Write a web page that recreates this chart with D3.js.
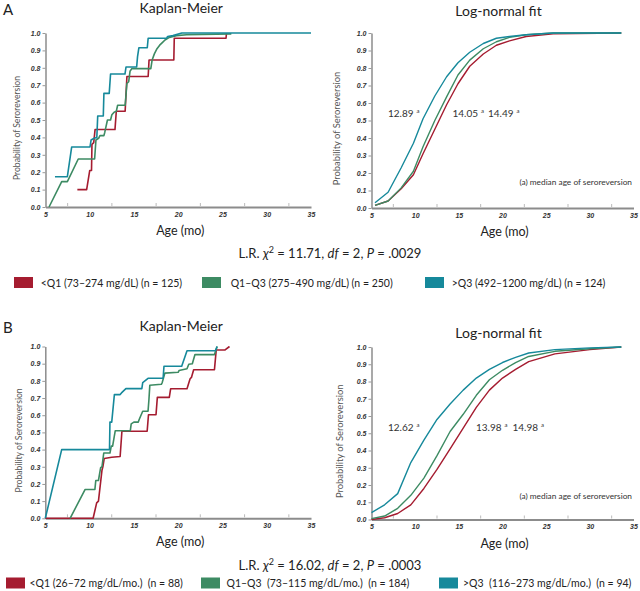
<!DOCTYPE html>
<html>
<head>
<meta charset="utf-8">
<script src="https://cdn.jsdelivr.net/npm/d3@7"></script>
<style>
body { margin: 0; background: #fff; }
svg { display: block; font-family: Lato, "Open Sans", sans-serif; }
.tick text { font-family: "Liberation Sans", sans-serif; font-weight: bold; font-style: italic; font-size: 7px; fill: #333; }
</style>
</head>
<body>
<svg width="640" height="591"></svg>
<script>
/*****************************************
*   Data
*****************************************/

const SERIES = ['<Q1', 'Q1-Q3', '>Q3'];
const COLORS = ['#a51c30', '#3d8b63', '#16899b'];

const X_TICKS = [5, 10, 15, 20, 25, 30, 35];
const X_MINOR = [7.5, 12.5, 17.5, 22.5, 27.5, 32.5];
const Y_TICKS = [0, 0.1, 0.2, 0.3, 0.4, 0.5, 0.6, 0.7, 0.8, 0.9, 1.0];

// Panel A, Kaplan-Meier: [age, probability] corners of each step curve
const kmA_low = [[8.6,0.10],[9.65,0.10],[10.0,0.21],[10.2,0.21],[10.25,0.36],[10.45,0.37],[10.6,0.445],[12.85,0.445],[13.0,0.55],[14.0,0.55],[14.2,0.75],[16.6,0.75],[16.7,0.845],[19.5,0.845],[19.55,0.97],[25.4,0.97],[25.45,1.0]];
const kmA_mid = [[5.4,0.0],[6.83,0.146],[7.47,0.146],[8.7,0.276],[10.55,0.276],[10.7,0.385],[11.0,0.395],[11.15,0.41],[11.6,0.41],[11.7,0.43],[12.0,0.50],[12.35,0.50],[12.5,0.53],[12.75,0.545],[13.0,0.55],[13.15,0.585],[14.0,0.585],[14.2,0.71],[14.4,0.72],[14.55,0.78],[14.75,0.795],[16.9,0.795],[17.05,0.845],[17.3,0.88],[17.6,0.91],[17.9,0.93],[18.2,0.945],[18.5,0.96],[19.0,0.975],[19.8,0.985],[20.95,0.99],[26.0,0.995]];
const kmA_high = [[6.07,0.174],[7.47,0.174],[7.96,0.345],[10.03,0.345],[10.15,0.385],[10.5,0.395],[10.8,0.40],[10.9,0.523],[11.53,0.523],[11.6,0.653],[12.2,0.653],[12.35,0.764],[13.98,0.764],[14.1,0.805],[15.3,0.805],[15.4,0.864],[15.55,0.915],[16.5,0.915],[16.6,0.97],[18.7,0.97],[18.8,0.98],[19.4,0.985],[20.4,1.0],[35,1.0]];

// Panel A, log-normal fit
const lnA_ages = [5.4, 6.9, 8.4, 9.8, 10.9, 12.25, 13.6, 14.9, 16.25, 17.8, 19.3, 20.8, 22.7, 25.8, 33.6];
const lnA_low  = [0.015, 0.04, 0.11, 0.19, 0.31, 0.45, 0.59, 0.71, 0.81, 0.88, 0.93, 0.955, 0.98, 0.995, 1.0];
const lnA_mid  = [0.015, 0.04, 0.115, 0.21, 0.35, 0.50, 0.635, 0.76, 0.845, 0.91, 0.95, 0.975, 0.99, 1.0, 1.0];
const lnA_high = [0.03, 0.09, 0.23, 0.37, 0.51, 0.64, 0.75, 0.83, 0.89, 0.94, 0.97, 0.98, 0.99, 1.0, 1.0];

// Panel B, Kaplan-Meier
const kmB_low = [[5.0,0],[10.4,0],[10.8,0.09],[11.0,0.10],[11.4,0.28],[11.5,0.30],[11.65,0.348],[12.5,0.355],[13.45,0.36],[13.65,0.507],[16.5,0.507],[16.65,0.603],[17.5,0.603],[17.65,0.704],[19.0,0.704],[19.15,0.754],[21.0,0.754],[21.35,0.812],[21.5,0.82],[21.75,0.865],[24.1,0.865],[24.3,0.98],[25.3,0.98],[25.8,1.0]];
const kmB_mid = [[7.8,0],[9.5,0.168],[10.6,0.168],[10.7,0.22],[11.0,0.22],[11.25,0.295],[11.4,0.30],[11.6,0.38],[12.3,0.38],[12.45,0.42],[12.6,0.42],[12.9,0.51],[14.6,0.51],[14.7,0.55],[15.0,0.56],[15.5,0.56],[15.6,0.575],[16.0,0.623],[16.6,0.623],[16.7,0.69],[16.8,0.774],[18.1,0.78],[18.2,0.79],[18.5,0.845],[20.0,0.85],[20.1,0.86],[21.0,0.87],[21.2,0.897],[21.6,0.90],[21.9,0.953],[24.1,0.953],[24.4,1.0]];
const kmB_high = [[5.0,0],[6.85,0.40],[12.25,0.40],[12.3,0.56],[12.5,0.56],[12.8,0.72],[13.45,0.72],[13.6,0.73],[14.1,0.755],[15.9,0.755],[16.0,0.79],[16.6,0.815],[18.3,0.815],[18.4,0.885],[20.4,0.885],[21.0,0.975],[24.2,0.975],[24.4,1.0]];

// Panel B, log-normal fit
const lnB_ages = [5, 6.5, 8, 9.5, 11, 12.5, 14, 15.5, 17, 18.5, 20, 21.5, 23, 26, 30, 33.6];
const lnB_low  = [0.0, 0.01, 0.035, 0.085, 0.18, 0.29, 0.41, 0.53, 0.65, 0.75, 0.82, 0.87, 0.915, 0.96, 0.985, 1.0];
const lnB_mid  = [0.005, 0.02, 0.065, 0.14, 0.24, 0.37, 0.51, 0.61, 0.72, 0.81, 0.865, 0.91, 0.945, 0.975, 0.99, 1.0];
const lnB_high = [0.04, 0.085, 0.15, 0.33, 0.46, 0.58, 0.67, 0.75, 0.82, 0.87, 0.91, 0.94, 0.965, 0.985, 0.995, 1.0];

// Median ages (a) and test statistics
const MEDIANS_A = ['12.89', '14.05', '14.49'];
const MEDIANS_B = ['12.62', '13.98', '14.98'];
const STATS_A = {chi: '11.71', df: '2', p: '.0029'};
const STATS_B = {chi: '16.02', df: '2', p: '.0003'};

const LEGEND_A = ['<Q1 (73\u2013274 mg/dL) (n = 125)', 'Q1\u2013Q3 (275\u2013490 mg/dL) (n = 250)', '>Q3 (492\u20131200 mg/dL) (n = 124)'];
const LEGEND_B = ['<Q1 (26\u201372 mg/dL/mo.)\u00a0 (n = 88)', 'Q1\u2013Q3\u00a0 (73\u2013115 mg/dL/mo.)\u00a0 (n = 184)', '>Q3\u00a0 (116\u2013273 mg/dL/mo.)\u00a0 (n = 94)'];

/*****************************************
*   Drawing
*****************************************/

const svg = d3.select('svg');
const AXIS_GREY = '#8c8c8c';

function zip(ages, vals) {
    return ages.map((a, i) => [a, vals[i]]);
}

function draw_panel(opt) {
    var x = d3.scaleLinear().domain([5, 35]).range([opt.left, opt.right]);
    var y = d3.scaleLinear().domain([0, 1]).range([opt.bottom, opt.top]);
    var g = svg.append('g');

    var xAxis = g.append('g')
        .attr('transform', 'translate(0,' + opt.bottom + ')')
        .call(d3.axisBottom(x).tickValues(X_TICKS).tickSize(0).tickPadding(5).tickFormat(d3.format('d')));
    xAxis.select('.domain').attr('stroke', AXIS_GREY).attr('stroke-width', 2);

    g.selectAll('.minor')
        .data(X_MINOR)
        .enter()
          .append('line')
          .attr('x1', d => x(d)).attr('x2', d => x(d))
          .attr('y1', opt.bottom - 4).attr('y2', opt.bottom - 1)
          .attr('stroke', '#aaa').attr('stroke-width', 0.8);

    var yAxis = g.append('g')
        .attr('transform', 'translate(' + opt.left + ',0)')
        .call(d3.axisLeft(y).tickValues(Y_TICKS).tickSize(3).tickSizeOuter(0).tickPadding(2).tickFormat(d3.format('.1f')));
    yAxis.select('.domain').attr('stroke', AXIS_GREY).attr('stroke-width', 1.5);
    yAxis.selectAll('.tick line').attr('stroke', '#999');

    var line = d3.line().x(d => x(d[0])).y(d => y(d[1]));
    opt.curves.forEach(function(c, i) {
        g.append('path')
            .datum(c)
            .attr('d', line)
            .attr('fill', 'none')
            .attr('stroke', COLORS[i])
            .attr('stroke-width', opt.width)
            .attr('stroke-linejoin', 'round');
    });

    g.append('text')
        .attr('x', (opt.left + opt.right) / 2 - 45 + opt.titleShift)
        .attr('y', opt.titleY)
        .attr('text-anchor', 'middle')
        .attr('font-size', 14)
        .attr('fill', '#222')
        .text(opt.title);

    g.append('text')
        .attr('transform', 'translate(' + opt.ylabX + ',' + ((opt.top + opt.bottom) / 2 + 8) + ') rotate(-90)')
        .attr('text-anchor', 'middle')
        .attr('font-size', opt.ylabSize)
        .attr('fill', '#555')
        .text('Probability of Seroreversion');

    g.append('text')
        .attr('x', (opt.left + opt.right) / 2 + 2)
        .attr('y', opt.bottom + 28)
        .attr('text-anchor', 'middle')
        .attr('font-size', 12.5)
        .attr('fill', '#222')
        .text('Age (mo)');

    return {x: x, y: y, g: g};
}

function add_medians(p, labels, xs, baseline) {
    labels.forEach(function(lab, i) {
        var t = p.g.append('text')
            .attr('x', xs[i])
            .attr('y', baseline)
            .attr('font-size', 10)
            .attr('fill', '#333')
            .text(lab);
        t.append('tspan')
            .attr('dx', 3)
            .attr('dy', -4)
            .attr('font-size', 6)
            .text('a');
    });
    p.g.append('text')
        .attr('x', 632)
        .attr('y', baseline + 68)
        .attr('text-anchor', 'end')
        .attr('font-size', 8.3)
        .attr('fill', '#333')
        .text('(a) median age of seroreversion');
}

function add_stats(s, baseline) {
    var t = svg.append('text')
        .attr('x', 330)
        .attr('y', baseline)
        .attr('text-anchor', 'middle')
        .attr('font-size', 13)
        .attr('fill', '#222');
    t.append('tspan').text('L.R. ');
    t.append('tspan').attr('font-style', 'italic').text('\u03c7');
    t.append('tspan').attr('font-size', 9).attr('dy', -5).text('2');
    t.append('tspan').attr('dy', 5).text(' = ' + s.chi + ', ');
    t.append('tspan').attr('font-style', 'italic').text('df');
    t.append('tspan').text(' = ' + s.df + ', ');
    t.append('tspan').attr('font-style', 'italic').text('P');
    t.append('tspan').text(' = ' + s.p);
}

function add_legend(labels, boxX, textX, top) {
    labels.forEach(function(lab, i) {
        svg.append('rect')
            .attr('x', boxX[i]).attr('y', top)
            .attr('width', 19).attr('height', 11)
            .attr('fill', COLORS[i]);
        svg.append('text')
            .attr('x', textX[i]).attr('y', top + 9.5)
            .attr('font-size', 10.5)
            .attr('fill', '#222')
            .text(lab);
    });
}

// Panel letters
svg.append('text').attr('x', 3).attr('y', 15).attr('font-size', 15).attr('fill', '#222').text('A');
svg.append('text').attr('x', 3).attr('y', 333).attr('font-size', 15).attr('fill', '#222').text('B');

// ---- Panel A ----
draw_panel({left: 45.5, right: 311, top: 33, bottom: 207, title: 'Kaplan-Meier', titleY: 13, titleShift: 48,
    ylabX: 19.5, ylabSize: 8.6, width: 1.6, curves: [kmA_low, kmA_mid, kmA_high]});
var pA = draw_panel({left: 371.5, right: 633.5, top: 33, bottom: 208, title: 'Log-normal fit', titleY: 16, titleShift: 41,
    ylabX: 340, ylabSize: 9.4, width: 1.4, curves: [zip(lnA_ages, lnA_low), zip(lnA_ages, lnA_mid), zip(lnA_ages, lnA_high)]});
add_medians(pA, MEDIANS_A, [388, 452.5, 488], 117);
add_stats(STATS_A, 258);
add_legend(LEGEND_A, [14, 202, 425], [40.7, 230.7, 451.7], 277);

// ---- Panel B ----
draw_panel({left: 45.3, right: 311, top: 346.5, bottom: 518.3, title: 'Kaplan-Meier', titleY: 331, titleShift: 48,
    ylabX: 21.5, ylabSize: 8.6, width: 1.6, curves: [kmB_low, kmB_mid, kmB_high]});
var pB = draw_panel({left: 371.5, right: 633.5, top: 347, bottom: 519.5, title: 'Log-normal fit', titleY: 338, titleShift: 41,
    ylabX: 343, ylabSize: 9.4, width: 1.4, curves: [zip(lnB_ages, lnB_low), zip(lnB_ages, lnB_mid), zip(lnB_ages, lnB_high)]});
add_medians(pB, MEDIANS_B, [388, 476, 512.5], 431);
add_stats(STATS_B, 570);
add_legend(LEGEND_B, [6, 201, 439], [29.4, 226.5, 463], 577.5);
</script>
</body>
</html>
